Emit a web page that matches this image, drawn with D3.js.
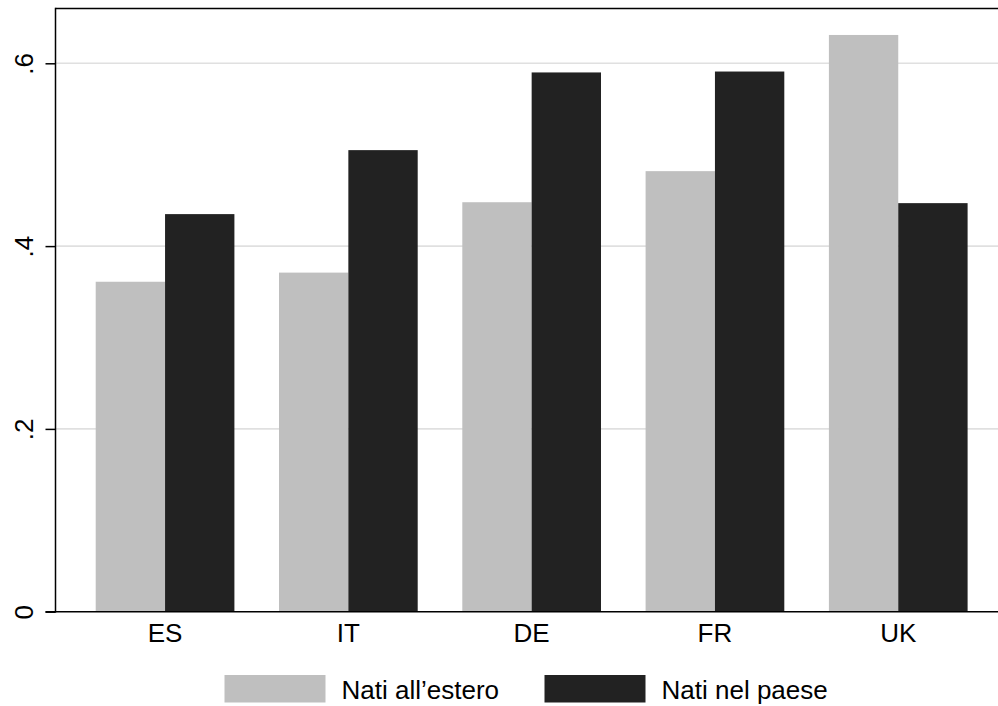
<!DOCTYPE html>
<html>
<head>
<meta charset="utf-8">
<script src="https://cdn.jsdelivr.net/npm/d3@7"></script>
<style>
  html, body { margin: 0; padding: 0; background: #ffffff; }
  svg { display: block; }
  text { font-family: "Liberation Sans", Arial, Helvetica, sans-serif; fill: #000; }
</style>
</head>
<body>
<div id="chart"></div>
<script>
const categories = ["ES", "IT", "DE", "FR", "UK"];
const seriesNames = ["Nati all\u2019estero", "Nati nel paese"];
const foreignBorn = [0.361, 0.371, 0.448, 0.482, 0.631];
const nativeBorn = [0.435, 0.505, 0.590, 0.591, 0.447];
const yTicks = [0, 0.2, 0.4, 0.6];
const yTickLabels = ["0", ".2", ".4", ".6"];
const colors = ["#bfbfbf", "#222222"];

const W = 998, H = 706;
const svg = d3.select("#chart").append("svg").attr("width", W).attr("height", H);

const plotLeft = 55.5, plotRight = 998, plotTop = 8.5, plotBottom = 611.7;

const y = d3.scaleLinear().domain([0, 0.6]).range([plotBottom, 63.3]);
const x = d3.scaleBand().domain(categories).range([73.4, 989.9])
  .paddingInner(0.2433).paddingOuter(0.12165);
const xs = d3.scaleBand().domain([0, 1]).range([0, x.bandwidth()]).padding(0);

// gridlines
svg.append("g").selectAll("line").data(yTicks.filter(d => d > 0)).join("line")
  .attr("x1", plotLeft).attr("x2", plotRight)
  .attr("y1", d => y(d)).attr("y2", d => y(d))
  .attr("stroke", "#e0e0e0").attr("stroke-width", 1.6);

// bars
const data = categories.map((c, i) => ({ c, vals: [foreignBorn[i], nativeBorn[i]] }));
const groups = svg.append("g").selectAll("g").data(data).join("g")
  .attr("transform", d => `translate(${x(d.c)},0)`);
groups.selectAll("rect").data(d => d.vals.map((v, k) => ({ v, k }))).join("rect")
  .attr("x", d => xs(d.k)).attr("width", xs.bandwidth())
  .attr("y", d => y(d.v)).attr("height", d => y(0) - y(d.v))
  .attr("fill", d => colors[d.k]);

// frame: top line
svg.append("line").attr("x1", plotLeft).attr("x2", plotRight)
  .attr("y1", plotTop).attr("y2", plotTop).attr("stroke", "#000").attr("stroke-width", 1.5);

// y axis
const yAxis = d3.axisLeft(y).tickValues(yTicks).tickSize(10).tickFormat((d, i) => yTickLabels[i]);
const ya = svg.append("g").attr("transform", `translate(${plotLeft},0)`).call(yAxis);
ya.select(".domain").remove();
ya.selectAll(".tick line").attr("stroke", "#000").attr("stroke-width", 1.5);
ya.selectAll(".tick text")
  .attr("x", null).attr("dy", null)
  .attr("transform", "translate(-23,0) rotate(-90)")
  .attr("text-anchor", "middle")
  .attr("font-size", 26)
  .style("font-family", "'Liberation Sans', Arial, sans-serif");
svg.append("line").attr("x1", plotLeft).attr("x2", plotLeft)
  .attr("y1", plotTop - 0.75).attr("y2", plotBottom + 0.75)
  .attr("stroke", "#000").attr("stroke-width", 1.5);

// x axis
const xAxis = d3.axisBottom(x).tickSize(0).tickPadding(0);
const xa = svg.append("g").attr("transform", `translate(0,${plotBottom})`).call(xAxis);
xa.select(".domain").remove();
xa.selectAll(".tick text").attr("y", 30).attr("dy", null)
  .attr("font-size", 26)
  .style("font-family", "'Liberation Sans', Arial, sans-serif");
svg.append("line").attr("x1", plotLeft - 10).attr("x2", plotRight)
  .attr("y1", plotBottom).attr("y2", plotBottom)
  .attr("stroke", "#000").attr("stroke-width", 1.5);

// legend
const legendItems = [
  { name: seriesNames[0], color: colors[0], x: 224.5 },
  { name: seriesNames[1], color: colors[1], x: 544.5 }
];
const lg = svg.append("g").selectAll("g").data(legendItems).join("g")
  .attr("transform", d => `translate(${d.x},675)`);
lg.append("rect").attr("width", 101).attr("height", 27.5).attr("fill", d => d.color);
lg.append("text").attr("x", 117).attr("y", 23.5).attr("font-size", 26).text(d => d.name);
</script>
</body>
</html>
